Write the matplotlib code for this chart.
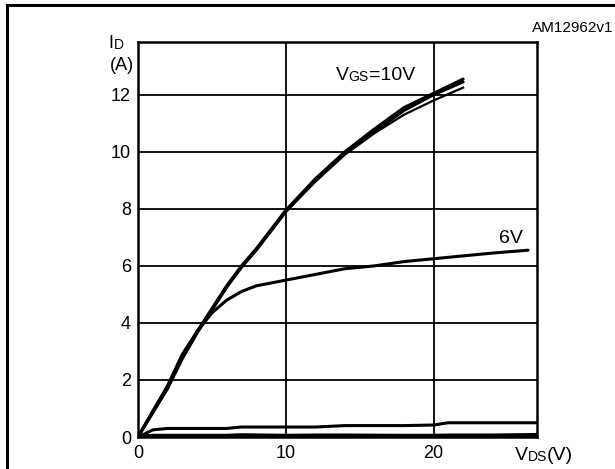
import numpy as np
import matplotlib.pyplot as plt
from matplotlib.lines import Line2D

plt.rcParams['font.family'] = ['Liberation Sans', 'DejaVu Sans']

# output characteristics
vds_10v = [0, 1, 2, 3, 4, 5, 6, 7, 8, 10, 12, 14, 16, 18, 20, 22]
id_10v_a = [0, 0.9, 1.75, 2.8, 3.7, 4.5, 5.3, 6.0, 6.6, 7.95, 9.05, 10.0, 10.8, 11.55, 12.05, 12.55]
id_10v_b = [0, 0.85, 1.7, 2.75, 3.65, 4.45, 5.25, 5.95, 6.55, 7.9, 9.0, 9.95, 10.7, 11.45, 12.0, 12.45]
id_10v_c = [0, 0.85, 1.7, 2.75, 3.65, 4.45, 5.25, 5.95, 6.55, 7.9, 8.95, 9.9, 10.65, 11.3, 11.8, 12.25]

vds_6v = [0, 1, 2, 3, 4, 5, 6, 7, 8, 10, 12, 14, 16, 18, 20, 22, 24, 26.4]
id_6v = [0, 0.9, 1.8, 2.9, 3.7, 4.35, 4.8, 5.1, 5.3, 5.5, 5.7, 5.9, 6.0, 6.15, 6.25, 6.35, 6.45, 6.55]

vds_low = [0, 0.5, 1, 2, 4, 6, 7, 10, 12, 14, 18, 20, 21, 24, 27]
id_5v = [0, 0.12, 0.25, 0.3, 0.3, 0.3, 0.35, 0.35, 0.35, 0.4, 0.4, 0.42, 0.5, 0.5, 0.5]
id_4v = [0, 0.02, 0.04, 0.04, 0.04, 0.04, 0.06, 0.04, 0.05, 0.05, 0.04, 0.04, 0.05, 0.05, 0.07]

FS = 13
FS_LBL = 14
FS_SUB = 10

fig = plt.figure(figsize=(6.15, 4.69), dpi=100)
ax = fig.add_axes([138 / 615, 1 - 437 / 469, (537 - 138) / 615, (437 - 42) / 469])

# outer frame
fig.add_artist(Line2D([7 / 615, 1.0], [1 - 5 / 469, 1 - 5 / 469], color='black', lw=2.2))
fig.add_artist(Line2D([7 / 615, 7 / 615], [0, 1 - 5 / 469], color='black', lw=2.2))

kw = dict(color='black', lw=2.2, solid_capstyle='round', zorder=3)
ax.plot(vds_10v, id_10v_a, **kw)
ax.plot(vds_10v, id_10v_b, **kw)
ax.plot(vds_10v, id_10v_c, color='black', lw=1.6, zorder=3)
ax.plot(vds_6v, id_6v, **kw)
ax.plot(vds_low, id_5v, **kw)
ax.plot(vds_low, id_4v, color='black', lw=3.0, zorder=3)

ax.set_xlim(0, 27)
ax.set_ylim(0, 13.85)
ax.set_xticks([0, 10, 20])
ax.set_yticks([0, 2, 4, 6, 8, 10, 12])
ax.grid(True, color='black', lw=1.3)
ax.tick_params(length=0, labelsize=FS)
ax.tick_params(axis='x', pad=6)
ax.tick_params(axis='y', pad=5)
for s in ax.spines.values():
    s.set_linewidth(1.8)


def sub_text(x, y, parts, size=FS_LBL):
    # parts: list of (text, is_small), drawn side by side on one baseline
    first, sm = parts[0]
    t = ax.text(x, y, first, fontsize=FS_SUB if sm else size,
                va='baseline', ha='left')
    for txt, sm in parts[1:]:
        t = ax.annotate(txt, xy=(1, 0), xycoords=t, fontsize=FS_SUB if sm else size,
                        va='bottom', ha='left')
    return t


sub_text(13.36, 12.53, [('V', False), ('GS', True), ('=10V', False)])
ax.text(24.4, 6.8, '6V', fontsize=FS_LBL, ha='left', va='baseline')

# axis labels
sub_text(-2.0, 13.65, [('I', False), ('D', True)], size=FS)
ax.text(-0.3, 12.88, '(A)', fontsize=FS, ha='right', va='baseline')
sub_text(25.5, -0.8, [('V', False), ('DS', True), ('(V)', False)])

fig.text(1 - 2 / 615, 1 - 21 / 469, 'AM12962v1', fontsize=11, ha='right', va='top')

plt.savefig('out.png', dpi=100)
